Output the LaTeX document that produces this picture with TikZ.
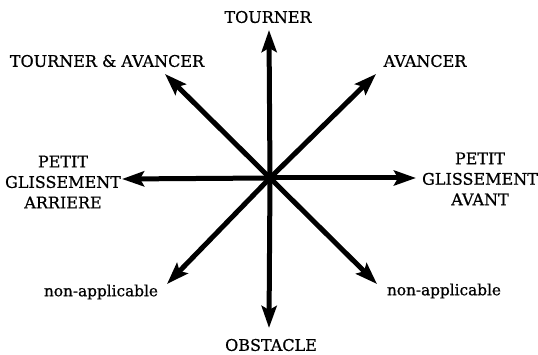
\documentclass[tikz,border=0pt]{standalone}
\usepackage{fontspec}
\setmainfont{DejaVu Serif}[FakeBold=0.8]
\usetikzlibrary{arrows.meta}
\begin{document}
\begin{tikzpicture}[x=1pt,y=-1pt,
  arr/.style={line width=5pt,-{Stealth[length=22pt,width=15pt,inset=4pt]}},
  lab/.style={font=\fontsize{16}{20.5}\selectfont,inner sep=0pt,align=center},
  labs/.style={font=\fontsize{15.3}{20}\selectfont,inner sep=0pt}]
\useasboundingbox (0,0) rectangle (538,355);
\coordinate (c) at (270,178);
\coordinate (tN) at (269,30);
\coordinate (tS) at (269,328);
\coordinate (tW) at (122,179);
\coordinate (tE) at (416,178);
\coordinate (tNW) at (165,74);
\coordinate (tNE) at (376,74);
\coordinate (tSW) at (167,284);
\coordinate (tSE) at (377,284);
\foreach \t in {tN,tS,tW,tE,tNW,tNE,tSW,tSE} \draw[arr] (c) -- (\t);
\fill (c) circle (5.5pt);
\node[lab] (lN) at (268,17) {TOURNER};
\node[lab] (lNW) at (107,61) {TOURNER \& AVANCER};
\node[lab] (lNE) at (425,61) {AVANCER};
\node[lab] (lW) at (63,182) {PETIT\\GLISSEMENT\\ARRIERE};
\node[lab] (lE) at (480,179) {PETIT\\GLISSEMENT\\AVANT};
\node[labs] (lSW) at (101,292) {non-applicable};
\node[labs] (lSE) at (444,291) {non-applicable};
\node[lab] (lS) at (271,345) {OBSTACLE};
\end{tikzpicture}
\end{document}
